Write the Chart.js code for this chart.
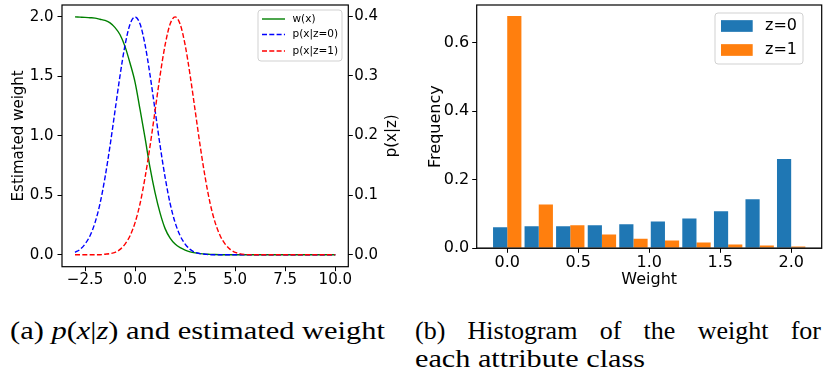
<!DOCTYPE html>
<html><head><meta charset="utf-8">
<script src="https://cdn.jsdelivr.net/npm/chart.js@4.4.0/dist/chart.umd.min.js"></script>
<style>
html,body{margin:0;padding:0;background:#fff;width:825px;height:375px;overflow:hidden;position:relative;}
canvas{position:absolute;top:0;}
#c1{left:0;}
#c2{left:410px;}
.cap{position:absolute;font-family:"Liberation Serif","Times New Roman",Times,serif;font-size:26px;white-space:nowrap;color:#000;transform-origin:0 0;line-height:1;}
.just{text-align:justify;text-align-last:justify;white-space:normal;}
</style></head><body>
<canvas id="c1" width="410" height="300"></canvas>
<canvas id="c2" width="415" height="300"></canvas>
<div class="cap" id="capA" data-w="375" style="left:10px;top:318px;">(a) <i>p</i>(<i>x</i>|<i>z</i>) and estimated weight</div>
<div class="cap just" id="capB1" style="left:415px;top:318px;width:406px;">(b) Histogram of the weight for</div>
<div class="cap" id="capB2" data-w="230" style="left:415px;top:346px;">each attribute class</div>
<script>
// ---- data: left chart ----
const xValues = [-3,-2.75,-2.5,-2.25,-2,-1.75,-1.5,-1.25,-1,-0.75,-0.5,-0.25,0,0.25,0.5,0.75,1,1.25,1.5,1.75,2,2.25,2.5,2.75,3,3.25,3.5,3.75,4,4.25,4.5,4.75,5,6,7,8,9,10];
const weightValues = [2.0,1.998,1.996,1.993,1.99,1.98,1.97,1.95,1.91,1.85,1.75,1.61,1.45,1.22,0.98,0.73,0.52,0.35,0.22,0.14,0.09,0.06,0.04,0.025,0.016,0.010,0.006,0.004,0.002,0.001,0.001,0,0,0,0,0,0,0];
const pz0Values = [0.004,0.009,0.018,0.032,0.054,0.086,0.130,0.183,0.242,0.301,0.352,0.387,0.399,0.387,0.352,0.301,0.242,0.183,0.130,0.086,0.054,0.032,0.018,0.009,0.004,0.002,0.001,0,0,0,0,0,0,0,0,0,0,0];
const pz1Values = [0,0,0,0,0,0,0.001,0.002,0.004,0.009,0.018,0.032,0.054,0.086,0.130,0.183,0.242,0.301,0.352,0.387,0.399,0.387,0.352,0.301,0.242,0.183,0.130,0.086,0.054,0.032,0.018,0.009,0.004,0,0,0,0,0];
const xTickValues = [-2.5,0,2.5,5,7.5,10];
const weightTickValues = [0,0.5,1,1.5,2];
const pTickValues = [0,0.1,0.2,0.3,0.4];
const leftLabels = ['w(x)','p(x|z=0)','p(x|z=1)'];

// ---- data: right chart ----
const binCenters = [0,0.222,0.444,0.667,0.889,1.111,1.333,1.556,1.778,2.0];
const freqZ0 = [0.061,0.064,0.064,0.067,0.070,0.078,0.087,0.108,0.143,0.260];
const freqZ1 = [0.677,0.128,0.067,0.040,0.028,0.023,0.017,0.011,0.008,0.005];
const histTickValues = [0,0.5,1,1.5,2];
const freqTickValues = [0,0.2,0.4,0.6];
const rightLabels = ['z=0','z=1'];

const FONT = 'DejaVu Sans';
const fmt = v => (v < 0 ? '\u2212' : '') + Math.abs(v).toFixed(1);

function fixedScale(size, horizontal){
  return function(s){
    if (horizontal) { s.height = size; s.paddingLeft = 0; s.paddingRight = 0; }
    else { s.width = size; s.paddingTop = 0; s.paddingBottom = 0; }
  };
}
function setTicks(vals){ return function(s){ s.ticks = vals.map(v => ({value: v})); }; }

const framePlugin = {
  id: 'frame',
  afterDatasetsDraw(chart) {
    const a = chart.chartArea, ctx = chart.ctx;
    ctx.save();
    ctx.strokeStyle = '#000'; ctx.lineWidth = 1.2;
    ctx.strokeRect(a.left, a.top, a.right - a.left, a.bottom - a.top);
    ctx.restore();
  }
};

function roundRect(ctx, x, y, w, h, r){
  ctx.beginPath();
  ctx.moveTo(x + r, y); ctx.lineTo(x + w - r, y); ctx.quadraticCurveTo(x + w, y, x + w, y + r);
  ctx.lineTo(x + w, y + h - r); ctx.quadraticCurveTo(x + w, y + h, x + w - r, y + h);
  ctx.lineTo(x + r, y + h); ctx.quadraticCurveTo(x, y + h, x, y + h - r);
  ctx.lineTo(x, y + r); ctx.quadraticCurveTo(x, y, x + r, y); ctx.closePath();
}

const legendPlugin = {
  id: 'inlegend',
  afterDraw(chart, args, o) {
    const ctx = chart.ctx;
    ctx.save();
    roundRect(ctx, o.x, o.y, o.w, o.h, 3);
    ctx.fillStyle = 'rgba(255,255,255,0.8)'; ctx.fill();
    ctx.strokeStyle = 'rgba(204,204,204,0.9)'; ctx.lineWidth = 1; ctx.stroke();
    ctx.font = o.fontSize + 'px "' + FONT + '"';
    ctx.textBaseline = 'middle'; ctx.textAlign = 'left'; ctx.fillStyle = '#000';
    o.items.forEach((it, i) => {
      const ds = chart.data.datasets[it];
      const cy = o.rows[i];
      if (o.kind === 'line') {
        ctx.strokeStyle = ds.borderColor; ctx.lineWidth = ds.borderWidth;
        ctx.setLineDash(ds.borderDash || []);
        ctx.beginPath(); ctx.moveTo(o.sx0, cy); ctx.lineTo(o.sx1, cy); ctx.stroke();
        ctx.setLineDash([]);
      } else {
        ctx.fillStyle = ds.backgroundColor;
        ctx.fillRect(o.sx0, cy - o.ph / 2, o.sx1 - o.sx0, o.ph);
      }
      ctx.fillStyle = '#000';
      ctx.fillText(ds.label, o.tx, cy);
    });
    ctx.restore();
  }
};

const rightTitlePlugin = {
  id: 'rtitle',
  afterDraw(chart, args, o) {
    const ctx = chart.ctx, a = chart.chartArea;
    ctx.save();
    ctx.translate(o.x, (a.top + a.bottom) / 2);
    ctx.rotate(-Math.PI / 2);
    ctx.font = o.size + 'px "' + FONT + '"';
    ctx.textAlign = 'center'; ctx.textBaseline = 'middle'; ctx.fillStyle = '#000';
    ctx.fillText(o.text, 0, 0);
    ctx.restore();
  }
};

const tickGrid = {drawOnChartArea: false, drawTicks: true, tickLength: 4.5, tickWidth: 1, tickColor: '#000', color: '#000'};

// ---- left chart ----
new Chart(document.getElementById('c1'), {
  type: 'line',
  data: {
    datasets: [
      {label: leftLabels[0], data: xValues.map((x,i)=>({x, y: weightValues[i]})), yAxisID: 'yL',
       borderColor: '#008000', borderWidth: 1.4, pointRadius: 0, cubicInterpolationMode: 'monotone', order: 2, fill: false},
      {label: leftLabels[1], data: xValues.map((x,i)=>({x, y: pz0Values[i]})), yAxisID: 'yR',
       borderColor: '#0000ff', borderWidth: 1.4, borderDash: [5, 2.3], pointRadius: 0, cubicInterpolationMode: 'monotone', order: 1, fill: false},
      {label: leftLabels[2], data: xValues.map((x,i)=>({x, y: pz1Values[i]})), yAxisID: 'yR',
       borderColor: '#ff0000', borderWidth: 1.4, borderDash: [5, 2.3], pointRadius: 0, cubicInterpolationMode: 'monotone', order: 0, fill: false}
    ]
  },
  options: {
    responsive: false, animation: false, devicePixelRatio: 1,
    layout: {padding: {top: 5, left: 0, right: 0, bottom: 0}},
    plugins: {
      legend: {display: false}, tooltip: {enabled: false},
      inlegend: {kind: 'line', x: 258, y: 10, w: 84, h: 51, items: [0,1,2], rows: [19, 34.5, 51], sx0: 262, sx1: 285, tx: 292.5, fontSize: 10.5},
      rtitle: {x: 392.5, text: 'p(x|z)', size: 15}
    },
    scales: {
      x: {type: 'linear', min: -3.65, max: 10.65, afterBuildTicks: setTicks(xTickValues), afterFit: fixedScale(33.3, true),
          grid: tickGrid, border: {display: false},
          ticks: {autoSkip: false, maxRotation: 0, padding: 0, color: '#000', font: {family: FONT, size: 15}, callback: v => fmt(v)}},
      yL: {type: 'linear', position: 'left', min: -0.1, max: 2.1, afterBuildTicks: setTicks(weightTickValues), afterFit: fixedScale(62, false),
          grid: tickGrid, border: {display: false},
          title: {display: true, text: 'Estimated weight', color: '#000', font: {family: FONT, size: 15}, padding: {top: 10, bottom: 0}},
          ticks: {autoSkip: false, padding: 4, color: '#000', font: {family: FONT, size: 15}, callback: v => fmt(v)}},
      yR: {type: 'linear', position: 'right', min: -0.02, max: 0.419, afterBuildTicks: setTicks(pTickValues), afterFit: fixedScale(61.7, false),
          grid: tickGrid, border: {display: false},
          ticks: {autoSkip: false, padding: 1.5, color: '#000', font: {family: FONT, size: 15}, callback: v => fmt(v)}}
    }
  },
  plugins: [framePlugin, legendPlugin, rightTitlePlugin]
});

// ---- right chart ----
new Chart(document.getElementById('c2'), {
  type: 'bar',
  data: {
    datasets: [
      {label: rightLabels[0], data: binCenters.map((x,i)=>({x, y: freqZ0[i]})), backgroundColor: '#1f77b4', borderWidth: 0, order: 1},
      {label: rightLabels[1], data: binCenters.map((x,i)=>({x, y: freqZ1[i]})), backgroundColor: '#ff7f0e', borderWidth: 0, order: 2},
      {type: 'line', label: 'zero', data: [{x: -0.215, y: 0}, {x: 2.215, y: 0}], borderColor: 'rgba(90,90,90,0.7)', borderWidth: 2.2, pointRadius: 0, order: 0}
    ]
  },
  options: {
    responsive: false, animation: false, devicePixelRatio: 1,
    layout: {padding: {top: 5, left: 0, right: 3.3, bottom: 0}},
    datasets: {bar: {barPercentage: 1, categoryPercentage: 0.9}},
    plugins: {
      legend: {display: false}, tooltip: {enabled: false},
      inlegend: {kind: 'bar', x: 305, y: 13, w: 88, h: 51, items: [0,1], rows: [26, 50], sx0: 311, sx1: 342.7, ph: 11.7, tx: 355, fontSize: 16}
    },
    scales: {
      x: {type: 'linear', offset: false, min: -0.215, max: 2.215, afterBuildTicks: setTicks(histTickValues), afterFit: fixedScale(51.7, true),
          grid: Object.assign({}, tickGrid, {offset: false}), border: {display: false},
          title: {display: true, text: 'Weight', color: '#000', font: {family: FONT, size: 16}, padding: {top: 0, bottom: 11}},
          ticks: {autoSkip: false, maxRotation: 0, padding: 0, color: '#000', font: {family: FONT, size: 16}, callback: v => fmt(v)}},
      y: {type: 'linear', min: 0, max: 0.709, afterBuildTicks: setTicks(freqTickValues), afterFit: fixedScale(66.7, false),
          grid: tickGrid, border: {display: false},
          title: {display: true, text: 'Frequency', color: '#000', font: {family: FONT, size: 16}, padding: {top: 16, bottom: 0}},
          ticks: {autoSkip: false, padding: 3, color: '#000', font: {family: FONT, size: 16}, callback: v => fmt(v)}}
    }
  },
  plugins: [framePlugin, legendPlugin]
});

// caption widths (after the serif font is available)
function fitCaptions(){
  document.querySelectorAll('.cap[data-w]').forEach(el => {
    el.style.display = 'inline-block';
    el.style.transform = 'none';
    const w = el.getBoundingClientRect().width;
    el.style.transform = 'scaleX(' + (parseFloat(el.dataset.w) / w) + ')';
  });
}
fitCaptions();
if (document.fonts && document.fonts.ready) {
  document.fonts.ready.then(fitCaptions);
}
</script>
</body></html>
